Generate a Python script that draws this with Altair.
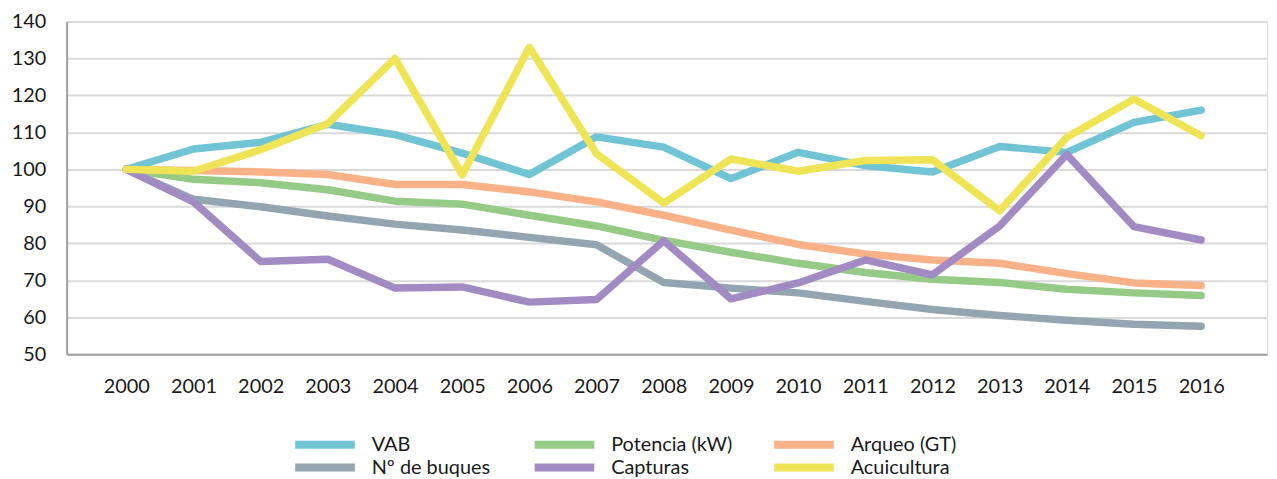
import altair as alt
import pandas as pd

years = list(range(2000, 2017))

series_names = ["VAB", "Potencia (kW)", "Arqueo (GT)", "Nº de buques", "Capturas", "Acuicultura"]
series_colors = ["#70C4D4", "#96CA87", "#F9B188", "#93A5B0", "#A28BC2", "#EEE456"]

vab = [100, 105.5, 107.3, 112.2, 109.4, 104.4, 98.6, 108.8, 106.0, 97.5, 104.6, 101.0, 99.3, 106.2, 104.6, 112.7, 116.0]
potencia = [100, 97.3, 96.4, 94.5, 91.4, 90.6, 87.6, 84.7, 80.8, 77.6, 74.6, 72.1, 70.3, 69.4, 67.6, 66.6, 65.9]
arqueo = [100, 99.7, 99.3, 98.6, 95.9, 95.9, 93.9, 91.2, 87.6, 83.6, 79.7, 77.1, 75.5, 74.6, 71.8, 69.3, 68.6]
buques = [100, 91.9, 89.9, 87.4, 85.2, 83.6, 81.6, 79.6, 69.4, 67.9, 66.6, 64.3, 62.1, 60.5, 59.2, 58.1, 57.6]
capturas = [100, 91.2, 75.1, 75.7, 67.9, 68.2, 64.1, 64.8, 80.7, 65.0, 69.3, 75.5, 71.5, 84.7, 104.0, 84.5, 80.9]
acuicultura = [100, 99.5, 105.3, 112.4, 130.0, 98.5, 133.0, 104.2, 90.9, 102.8, 99.5, 102.4, 102.6, 88.8, 108.7, 119.0, 109.1]

y_ticks = list(range(50, 150, 10))

all_series = [vab, potencia, arqueo, buques, capturas, acuicultura]
rows = []
for name, vals in zip(series_names, all_series):
    for yr, v in zip(years, vals):
        rows.append({"year": yr, "value": v, "serie": name})
df = pd.DataFrame(rows)

FONT = "Lato"
FS = 20

chart = alt.Chart(df).mark_line(
    strokeWidth=7.5, strokeCap="round", strokeJoin="round"
).encode(
    x=alt.X("year:Q",
            scale=alt.Scale(domain=[1999.112, 2016.98], nice=False, zero=False),
            axis=alt.Axis(values=years, format="d", title=None, grid=False,
                          ticks=False, tickSize=0, labelPadding=22,
                          labelFontSize=FS, labelFont=FONT, labelColor="#1a1a1a",
                          domainColor="#a0a0a0", domainWidth=2, labelFlush=False)),
    y=alt.Y("value:Q",
            scale=alt.Scale(domain=[50, 140], nice=False, zero=False),
            axis=alt.Axis(values=y_ticks, title=None, grid=True, gridColor="#d9d9d9",
                          gridWidth=2, ticks=False, tickSize=0, labelPadding=21,
                          labelFontSize=FS, labelFont=FONT, labelColor="#1a1a1a",
                          domainColor="#a0a0a0", domainWidth=2)),
    color=alt.Color("serie:N",
                    scale=alt.Scale(domain=series_names, range=series_colors),
                    sort=series_names,
                    legend=alt.Legend(title=None, orient="none", legendX=226, legendY=416,
                                      columns=3, direction="horizontal",
                                      symbolType="stroke", symbolSize=3600,
                                      symbolStrokeWidth=8, clipHeight=20,
                                      labelOffset=13, gridAlign="all",
                                      columnPadding=37, rowPadding=3,
                                      labelFont=FONT, labelFontSize=FS,
                                      labelColor="#1a1a1a", labelLimit=400)),
    order=alt.Order("year:Q"),
).properties(
    width=1208,
    height=335,
    autosize=alt.AutoSizeParams(type="none"),
    padding={"left": 59, "top": 12, "right": 2, "bottom": 124},
).configure_view(stroke=None).configure(background="white")

chart.save("out.html", embed_options={"renderer": "svg", "actions": False})
